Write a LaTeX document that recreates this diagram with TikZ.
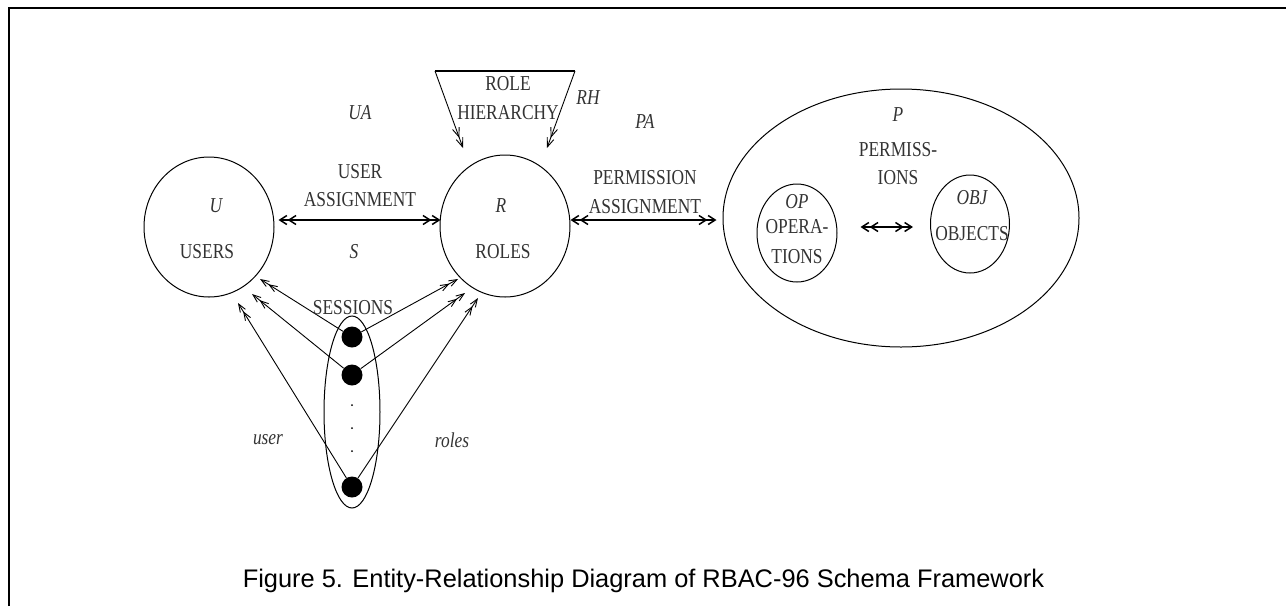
\documentclass[tikz,border=0pt]{standalone}
\usepackage{fontspec}
\setmainfont{Liberation Serif}
\newfontfamily\capfont{Liberation Sans}
\usepackage{graphicx}
\usetikzlibrary{shapes.geometric,arrows.meta}
\definecolor{txtgray}{HTML}{333333}
\newcommand\tx[1]{\scalebox{1}[1.22]{#1}}
\tikzset{
  ent/.style={draw, ellipse, inner sep=0pt, line width=1pt},
  lbl/.style={text=txtgray, font=\fontsize{17.4}{19}\selectfont, inner sep=0pt},
  ilbl/.style={lbl, font=\fontsize{17.4}{19}\selectfont\itshape},
  sdot/.style={circle, fill=black, minimum size=21pt, inner sep=0pt},
  tdot/.style={circle, fill=black, minimum size=2pt, inner sep=0pt},
  dbl/.style={line width=1.5pt, {Straight Barb[length=7pt,width=9pt]Straight Barb[length=7pt,width=9pt]}-{Straight Barb[length=7pt,width=9pt]Straight Barb[length=7pt,width=9pt]}},
  sarr/.style={line width=0.9pt, -{Straight Barb[length=8pt,width=6pt]Straight Barb[length=8pt,width=6pt]}},
  rharr/.style={line width=0.9pt, -{Straight Barb[length=9pt,width=7pt]Straight Barb[length=9pt,width=7pt]}}
}
\begin{document}
\begin{tikzpicture}[x=1pt,y=-1pt]
\useasboundingbox (0,0) rectangle (1286,606);
% frame
\draw[line width=2pt] (9,606) -- (9,8) -- (1286,8);

% entities
\node[ent, minimum width=130pt, minimum height=140pt] (users) at (209,227) {};
\node[ent, minimum width=130pt, minimum height=142pt] (roles) at (505,226) {};
\node[ent, minimum width=356pt, minimum height=258pt] (perm) at (901,218) {};
\node[ent, minimum width=80pt, minimum height=98pt] (op) at (797,233) {};
\node[ent, minimum width=79pt, minimum height=98pt] (obj) at (970,224) {};
\node[ent, minimum width=56pt, minimum height=192pt] (sess) at (352,412) {};

% session dots
\node[sdot] (s1) at (352,337) {};
\node[sdot] (s2) at (352,375) {};
\node[sdot] (s3) at (352,487) {};
\node[tdot] (t1) at (352,405) {};
\node[tdot] (t2) at (352,428) {};
\node[tdot] (t3) at (352,451) {};

% role hierarchy
\coordinate (rhTL) at (435,71);
\coordinate (rhTR) at (575,71);
\coordinate (rhL) at (463,148);
\coordinate (rhR) at (547,148);
\draw[line width=2pt] (rhTL) -- (rhTR);
\draw[rharr] (rhTL) -- (rhL);
\draw[rharr] (rhTR) -- (rhR);

% assignments
\draw[dbl] ([xshift=4pt,yshift=7pt]users.east) -- ([xshift=1pt,yshift=6pt]roles.west);
\draw[dbl] ([yshift=6pt]roles.east) -- ([xshift=-6pt,yshift=-2pt]perm.west);
\draw[dbl] ([xshift=23pt,yshift=6pt]op.east) -- ([xshift=-17pt,yshift=-3pt]obj.west);

% session arrows
\coordinate (u1) at (260,279);
\coordinate (u2) at (252,294);
\coordinate (u3) at (238,303);
\coordinate (r1) at (458,279);
\coordinate (r2) at (465,293);
\coordinate (r3) at (478,298);
\draw[sarr] (s1) -- (u1);
\draw[sarr] (s2) -- (u2);
\draw[sarr] (s3) -- (u3);
\draw[sarr] (s1) -- (r1);
\draw[sarr] (s2) -- (r2);
\draw[sarr] (s3) -- (r3);

% labels
\node[lbl] (lrole) at (508,84) {\tx{ROLE}};
\node[lbl] (lhier) at (508,113) {\tx{HIERARCHY}};
\node[ilbl] (lrh) at (588,98) {\tx{RH}};
\node[ilbl] (lua) at (360,113) {\tx{UA}};
\node[lbl] (luser) at (360,172) {\tx{USER}};
\node[lbl] (luasg) at (360,200) {\tx{ASSIGNMENT}};
\node[ilbl] (lu) at (216,206) {\tx{U}};
\node[lbl] (lusers) at (207,252) {\tx{USERS}};
\node[ilbl] (ls) at (354,252) {\tx{S}};
\node[ilbl] (lr) at (501,206) {\tx{R}};
\node[lbl] (lroles) at (503,252) {\tx{ROLES}};
\node[lbl] (lsess) at (353,308) {\tx{SESSIONS}};
\node[ilbl] (lpa) at (645,121) {\tx{PA}};
\node[lbl] (lperm) at (645,178) {\tx{PERMISSION}};
\node[lbl] (lpasg) at (645,207) {\tx{ASSIGNMENT}};
\node[ilbl] (lp) at (898,115) {\tx{P}};
\node[lbl] (lpermiss) at (898,150) {\tx{PERMISS-}};
\node[lbl] (lions) at (898,178) {\tx{IONS}};
\node[ilbl] (lop) at (797,202) {\tx{OP}};
\node[lbl] (lopera) at (797,227) {\tx{OPERA-}};
\node[lbl] (ltions) at (797,257) {\tx{TIONS}};
\node[ilbl] (lobj) at (972,198) {\tx{OBJ}};
\node[lbl] (lobjects) at (972,234) {\tx{OBJECTS}};
\node[ilbl] (luserl) at (268,440) {\tx{user}};
\node[ilbl] (lrolesl) at (452,440) {\tx{roles}};

% caption
\node[anchor=base, inner sep=0pt, font=\capfont\fontsize{25.4}{28}\selectfont] (cap) at (643.5,587) {Figure 5. Entity-Relationship Diagram of RBAC-96 Schema Framework};
\end{tikzpicture}
\end{document}
